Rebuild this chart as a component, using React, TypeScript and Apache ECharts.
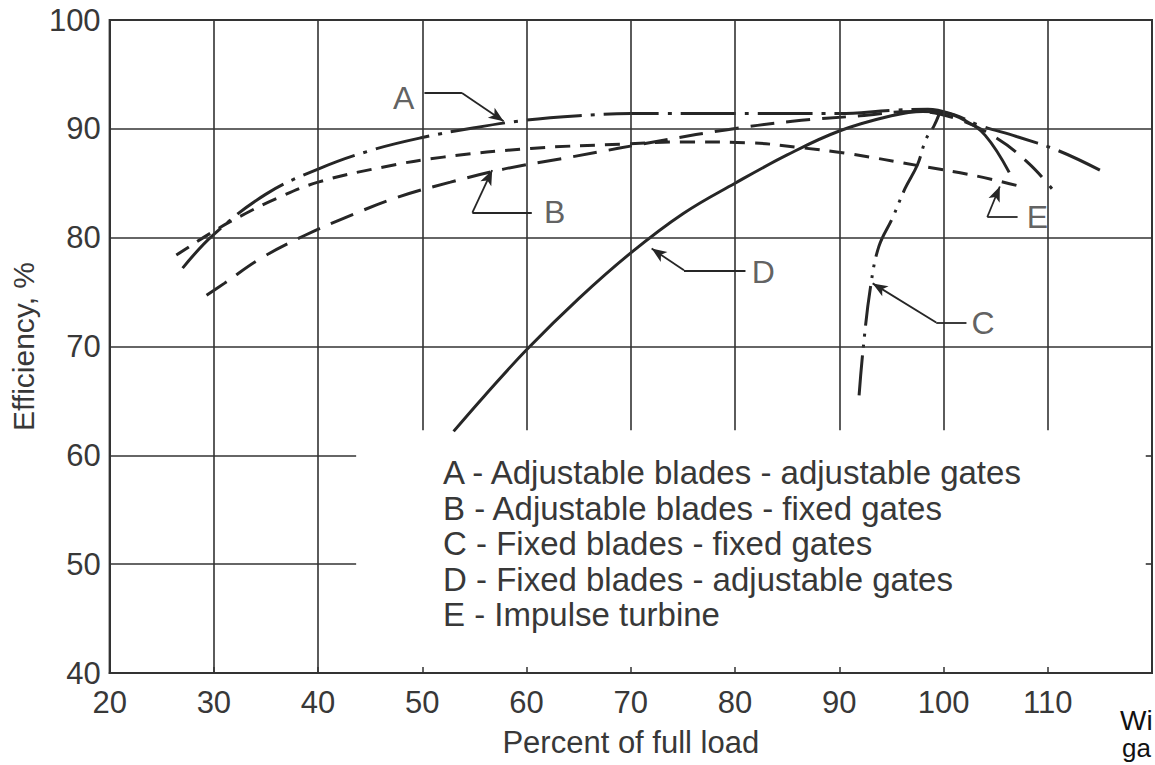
import React, { useEffect, useRef } from "react";
import * as echarts from "echarts";

// ---------- data ----------
const xMin = 20;
const xMax = 120;
const yMin = 40;
const yMax = 100;
const xTickLabels = [20, 30, 40, 50, 60, 70, 80, 90, 100, 110];

// A - Adjustable blades - adjustable gates (dash-dot)
const curveA: number[][] = [
  [27, 77.2], [30, 80.3], [35, 84.0], [40, 86.3], [45, 88.0], [50, 89.2], [55, 90.1],
  [60, 90.8], [65, 91.2], [70, 91.4], [80, 91.4], [90, 91.4], [95, 91.7], [98.5, 91.8],
  [101, 91.3], [103.5, 90.3], [107, 89.3], [111, 88.0], [115, 86.2],
];
// B - Adjustable blades - fixed gates (long dash)
const curveB: number[][] = [
  [29.3, 74.7], [31, 75.8], [34.5, 78.1], [38.7, 80.2], [42.5, 81.8], [47.6, 83.7],
  [52.7, 85.1], [57.8, 86.3], [64.2, 87.4], [73.4, 89.0], [79.1, 89.9], [85.5, 90.7],
  [92, 91.2], [97, 91.6], [101, 91.0], [105, 89.2], [108.2, 86.8], [110.4, 84.5],
];
// C - Fixed blades - fixed gates (dash-dot-dot)
const curveC: number[][] = [
  [91.9, 65.5], [92.3, 69.9], [93.0, 75.5], [93.8, 79.2], [95.1, 81.8], [96.3, 84.5],
  [97.5, 86.7], [98.3, 89.0], [99.1, 90.3], [99.6, 91.4],
];
// D - Fixed blades - adjustable gates (solid)
const curveD: number[][] = [
  [53, 62.2], [56, 65.5], [60, 69.7], [65, 74.4], [70, 78.6], [75, 82.2], [80, 85.0],
  [85, 87.6], [90, 89.8], [95, 91.2], [98, 91.6], [100, 91.5], [102, 90.8], [104, 89.4],
  [106.3, 86.0],
];
// E - Impulse turbine (short dash)
const curveE: number[][] = [
  [26.4, 78.4], [30, 80.6], [33, 82.2], [36, 83.6], [40, 85.1], [46.3, 86.5],
  [52, 87.4], [60.4, 88.2], [69.3, 88.6], [75, 88.8], [81.7, 88.7], [86, 88.3],
  [91, 87.7], [97.7, 86.6], [103, 85.7], [107, 84.8],
];

const legendLines = [
  "A - Adjustable blades - adjustable gates",
  "B - Adjustable blades - fixed gates",
  "C - Fixed blades - fixed gates",
  "D - Fixed blades - adjustable gates",
  "E - Impulse turbine",
];

// callouts: letter position, leader start, elbow, arrow tip (data coordinates)
const calloutLetters = ["A", "B", "C", "D", "E"];
const calloutLabelAt: number[][] = [[48.2, 92.8], [62.7, 82.4], [103.8, 72.2], [82.7, 76.8], [109.0, 81.9]];
const calloutStart: number[][] = [[50.2, 93.3], [60.5, 82.3], [102.2, 72.2], [81.0, 77.0], [107.1, 81.9]];
const calloutElbow: number[][] = [[53.8, 93.3], [54.8, 82.3], [99.3, 72.2], [75.1, 77.0], [104.2, 81.9]];
const calloutTip: number[][] = [[57.8, 90.7], [56.7, 86.2], [93.2, 75.8], [72.0, 79.0], [105.4, 84.7]];

// grid lines
const fullHLines = [70, 80, 90];
const partialHLines = [50, 60];
const partialHLineEnd = 43.65;
const fullVLines = [30, 40];
const partialVLines = [50, 60, 70, 80, 90, 100, 110];
const partialVLineStart = 62.3;
const rightBorderTicks = [50, 60];
const rightTickStart = 119.4;

const FONT = "'Liberation Sans', Arial, Helvetica, sans-serif";
const INK = "#262626";
const TEXT = "#383838";

export default function App() {
  const ref = useRef<HTMLDivElement>(null);

  useEffect(() => {
    if (!ref.current) return;
    const chart = echarts.init(ref.current, undefined, { renderer: "svg" });

    const gridLineData: any[] = [];
    fullHLines.forEach((v) => gridLineData.push([{ coord: [xMin, v] }, { coord: [xMax, v] }]));
    partialHLines.forEach((v) => gridLineData.push([{ coord: [xMin, v] }, { coord: [partialHLineEnd, v] }]));
    fullVLines.forEach((v) => gridLineData.push([{ coord: [v, yMin] }, { coord: [v, yMax] }]));
    partialVLines.forEach((v) => gridLineData.push([{ coord: [v, partialVLineStart] }, { coord: [v, yMax] }]));
    rightBorderTicks.forEach((v) => gridLineData.push([{ coord: [rightTickStart, v] }, { coord: [xMax, v] }]));

    const calloutLineData: any[] = [];
    calloutLetters.forEach((_, i) => {
      calloutLineData.push([
        { coord: calloutStart[i], symbol: "none" },
        { coord: calloutElbow[i], symbol: "none" },
      ]);
      calloutLineData.push([
        { coord: calloutElbow[i], symbol: "none" },
        { coord: calloutTip[i], symbol: "arrow", symbolSize: [9, 15] },
      ]);
    });

    const curve = (name: string, data: number[][], dash: any) => ({
      type: "line",
      name,
      data,
      smooth: 0.4,
      showSymbol: false,
      symbol: "none",
      silent: true,
      z: 3,
      lineStyle: { color: INK, width: 3, type: dash },
    });

    chart.setOption({
      animation: false,
      backgroundColor: "#ffffff",
      textStyle: { fontFamily: FONT },
      grid: {
        left: 105,
        right: 2,
        top: 20,
        bottom: 92,
        show: true,
        borderColor: "#333",
        borderWidth: 2,
        backgroundColor: "transparent",
      },
      xAxis: {
        type: "value",
        min: xMin,
        max: xMax,
        interval: 10,
        name: "Percent of full load",
        nameLocation: "middle",
        nameGap: 54,
        nameTextStyle: { fontSize: 31, color: TEXT, fontFamily: FONT },
        axisLine: { show: true, lineStyle: { color: "#333", width: 2 } },
        axisTick: { show: true, inside: true, length: 6, lineStyle: { color: "#333", width: 1.5 } },
        axisLabel: {
          fontSize: 31,
          color: TEXT,
          margin: 14,
          fontFamily: FONT,
          formatter: (v: number) => (xTickLabels.includes(v) ? String(v) : ""),
        },
        splitLine: { show: false },
      },
      yAxis: {
        type: "value",
        min: yMin,
        max: yMax,
        interval: 10,
        name: "Efficiency, %",
        nameLocation: "middle",
        nameGap: 60,
        nameRotate: 90,
        nameTextStyle: { fontSize: 30, color: TEXT, fontFamily: FONT },
        axisLine: { show: true, lineStyle: { color: "#333", width: 2 } },
        axisTick: { show: false },
        axisLabel: { fontSize: 31, color: TEXT, margin: 9, fontFamily: FONT },
        splitLine: { show: false },
      },
      series: [
        {
          type: "line",
          name: "grid",
          data: [[xMin, yMin]],
          showSymbol: false,
          symbol: "none",
          silent: true,
          z: 1,
          lineStyle: { width: 0 },
          markLine: {
            silent: true,
            symbol: "none",
            label: { show: false },
            animation: false,
            lineStyle: { color: "#333", width: 1.6, type: "solid" },
            data: gridLineData,
          },
        },
        curve("A", curveA, [55, 9, 4, 9]),
        curve("B", curveB, [24, 12]),
        curve("C", curveC, [40, 8, 3, 8, 3, 8]),
        curve("D", curveD, "solid"),
        curve("E", curveE, [15, 10]),
        {
          type: "line",
          name: "callouts",
          data: [[xMin, yMin]],
          showSymbol: false,
          symbol: "none",
          silent: true,
          z: 4,
          lineStyle: { width: 0 },
          markLine: {
            silent: true,
            label: { show: false },
            animation: false,
            lineStyle: { color: INK, width: 1.8, type: "solid" },
            data: calloutLineData,
          },
        },
        {
          type: "scatter",
          name: "callout-letters",
          silent: true,
          z: 5,
          symbolSize: 1,
          itemStyle: { color: "rgba(0,0,0,0)" },
          data: calloutLetters.map((t, i) => ({ name: t, value: calloutLabelAt[i] })),
          label: {
            show: true,
            position: "inside",
            formatter: "{b}",
            fontSize: 32,
            color: TEXT,
            fontFamily: FONT,
          },
        },
      ],
      graphic: [
        ...legendLines.map((t, i) => ({
          type: "text",
          left: 443,
          top: 474 + i * 35.5 - 18,
          silent: true,
          style: { text: t, fontSize: 33, fill: TEXT, fontFamily: FONT },
        })),
        {
          type: "text",
          left: 1120,
          top: 706,
          silent: true,
          style: { text: "Wi", fontSize: 28, fill: "#111", fontFamily: FONT },
        },
        {
          type: "text",
          left: 1122,
          top: 735,
          silent: true,
          style: { text: "ga", fontSize: 26, fill: "#111", fontFamily: FONT },
        },
      ],
    });

    return () => chart.dispose();
  }, []);

  return (
    <div
      ref={ref}
      style={{ position: "fixed", left: 0, top: 0, width: 1155, height: 765, background: "#fff" }}
    />
  );
}
